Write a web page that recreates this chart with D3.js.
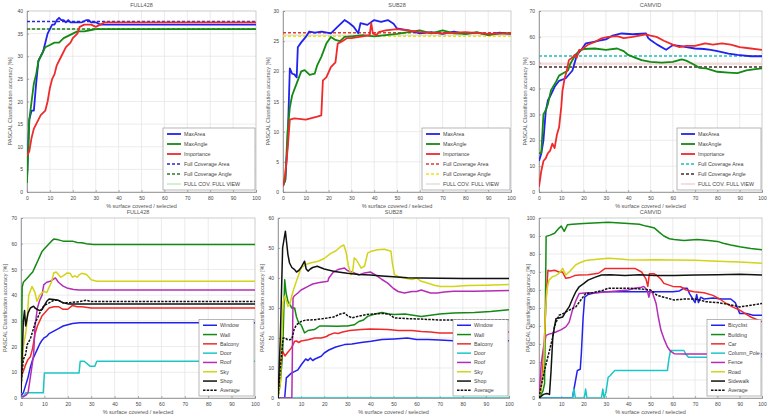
<!DOCTYPE html>
<html>
<head>
<meta charset="utf-8">
<script src="https://cdn.jsdelivr.net/npm/d3@7"></script>
<style>
  body { margin: 0; background: #fff; }
  svg { font-family: "Liberation Sans", Arial, sans-serif; }
  .tick text { fill: #444; }
</style>
</head>
<body>
<svg id="chart" width="768" height="419"></svg>
<script>
// ---- data: [% surface, accuracy] ----
const xTicks = [0, 10, 20, 30, 40, 50, 60, 70, 80, 90, 100];

// top row: strategies
const fullMaxArea = [[0,3],[1,16],[2,18],[3,18],[4,24],[5,29],[6,30],[7,31],[8,33],[9,35],[10,36],[11,37],[12,37],[13,38],[14,38.5],[15,38],[16,38],[17,37.5],[18,38],[19,37.5],[20,37.5],[22,37.5],[24,37.5],[26,38],[27,38],[28,37.5],[30,37.5],[32,37],[100,37]];
const fullMaxAngle = [[0,2],[1,16],[2,20],[3,24],[4,26],[5,29],[6,30],[7,31],[8,32],[10,32.5],[12,33],[14,33],[16,34],[18,34.5],[20,35],[22,35.5],[25,35.5],[28,35.8],[30,36],[100,36]];
const fullImportance = [[0,8],[1,9],[2,12],[3,14],[4,15],[5,16],[6,17],[8,18],[9,20],[10,23],[11,25],[12,26],[13,28],[14,29],[15,30],[17,32],[19,33],[20,34],[22,35],[23,36.5],[25,37],[27,37],[28,37],[30,36.5],[32,37],[34,37.5],[100,37.5]];
const fullRefs = [37.7, 36, 36];

const subMaxArea = [[0,1],[1,2],[2,8],[3,20.5],[4,19.6],[5,19.5],[6,19],[6.5,24],[8,24.8],[10,25.7],[11.5,26.6],[14,26.4],[17,26.6],[21,26.3],[24,27.4],[27,28.5],[29,28],[31,27.4],[33,26.3],[34,28],[37,27.7],[40,28.5],[43,28.2],[46,28.5],[48.5,27.9],[50,27.1],[55,26.8],[60,26.3],[65,26.5],[70,26.2],[75,26.6],[80,26.2],[85,26.4],[90,26.1],[95,26.4],[100,26.2]];
const subMaxAngle = [[0,1],[1,2],[2,10],[3,14],[4,16],[5,17],[6,18],[7,19],[8,20],[9.5,20.2],[11.7,19.4],[13.9,19.6],[15,21],[16.8,22.4],[19,24.6],[21,25.7],[23,25.2],[25,25],[27,25.7],[30,25.8],[35,26],[40,25.8],[45,26],[50,26.2],[55,26.5],[60,26.8],[65,26.3],[70,26.8],[75,26.3],[80,26.2],[85,26.5],[90,26],[95,26.3],[100,26.3]];
const subImportance = [[0,1],[1,3],[2,7],[3,12],[5,12.2],[10,12],[15,12.5],[16.8,12.7],[17.5,18.5],[19,19],[21,20.7],[23,21.5],[24,24.6],[26,25],[28,25.5],[30,25.5],[35,25.8],[38,26],[38.7,28],[39.4,26.3],[41,26],[42,26.5],[45,26.8],[50,27],[55,26.8],[60,26.5],[70,26.3],[80,26.5],[90,26.2],[100,26.3]];
const subRefs = [26.4, 25.8, 26];

const camMaxArea = [[0,12],[1,14.8],[2,20],[3,31],[4,35.5],[5,37],[7,40.7],[9,43],[12,44],[15,47],[17,53],[19,55],[21,57.5],[24,58],[27,58.5],[30,59],[33,60.5],[37,61.3],[42,61],[48,61.3],[49,59.5],[50,58.8],[53,57],[57,55],[60,56.8],[63,56.5],[66,56],[70,55.5],[74,55.3],[77,55],[80,54.5],[85,53.5],[89,53],[95,52.5],[100,52.5]];
const camMaxAngle = [[0,15],[1,15],[2,30],[3,31.6],[4,34],[5.4,39.4],[7.6,42.6],[9,45],[11,46],[13,47],[14,49.5],[16.3,53],[18,54.5],[20,55.3],[25,55.5],[30,55],[35,55.5],[38,54.5],[40,53],[43,52],[46,51],[50,50.3],[55,50],[60,50.3],[64,51.3],[66,50.8],[69,49.5],[72,48],[75,47.8],[80,46.5],[85,46.2],[89,46],[93,47],[97,47.5],[100,47.8]];
const camImportance = [[0,2],[1,8],[2,12],[3,13],[4,15],[5,16],[6,18.7],[7,17],[8,22],[9,25],[10,33],[10.5,39],[11.5,44],[12.5,47],[13.4,51],[15,52],[16,53],[17,52],[18,55],[19,55],[22,57],[25,58],[28,59.4],[31,60],[35,60.3],[38,59.5],[42,60],[48,61],[50,60.5],[52.7,60],[56,58.5],[60,57],[63,56],[66,56.5],[70,56.5],[74.5,57.5],[78,57],[82,57.5],[86,57],[90,56],[95,55.5],[100,55]];
const camRefs = [52.6, 48.3, 49.5];

// bottom row: classes
const fullWindow = [[0,1],[1,2],[2,5],[3,8],[4,12],[5,15],[6,17],[7,19],[8,21],[9,22.5],[10,23.5],[11,24],[12,25],[14,26],[16,27],[18,28],[20,28.5],[22,29],[25,29.3],[30,29.3],[100,29.3]];
const fullWall = [[0,2],[0.5,43],[1,45],[2,46],[3,47],[4,48],[5,49],[6,51],[7,53],[8,55],[9,57],[10,58],[11,59],[12,60],[13,61],[14,61.8],[16,61.5],[18,61],[20,61],[22,61],[24,60.5],[26,60.4],[28,60],[31,59.7],[35,59.7],[100,59.7]];
const fullBalcony = [[0,8],[1,10.4],[2,13],[3,15],[4,16],[5,19.5],[6,25],[7,28],[8,30],[9,32],[10,33],[11,34],[12,35],[14,35.5],[16,35.5],[18,34.5],[20,34.5],[22,36],[24,35.5],[26,35.5],[30,35],[100,35]];
const fullDoor = [[0,0],[1,0.5],[2,2],[5,2],[9.5,2],[10,9.7],[12,9.7],[18,9.7],[24.8,9.7],[25.3,14.3],[27,14.3],[29.6,12.3],[31.5,12.3],[32.4,14.3],[35,14.3],[100,14.3]];
const fullRoof = [[0,1],[1,0.5],[2,1],[3,2],[4,8],[5.4,17],[6,28],[7,35],[8,38],[9,40],[9.7,44],[11,45],[12.5,45.4],[14.7,46.7],[16,45],[18,43.5],[19.6,42.8],[22.5,42.2],[25,42],[100,42]];
const fullSky = [[0,3],[1,20],[2,25],[2.6,30],[3.3,40],[4.7,43.4],[6,41],[6.8,37.6],[8,40],[9.7,41.5],[11,41],[12,43],[13,45],[14,48.6],[15,49],[16,48],[17,47],[18,47.5],[19.6,48.6],[21,48.5],[22,47],[23,47.5],[24,47],[25,48],[26,48.5],[28,48],[30,46],[32.4,45.4],[100,45.4]];
const fullShop = [[0,2],[1,30],[1.5,34],[2,28],[3,33],[4,35],[5.4,35.7],[6,35],[7,34.4],[8,34],[9,34.4],[10,36],[11,37.6],[12,38.5],[14,38.3],[16,38],[18,37],[20,36.6],[25,36.6],[30,36.6],[100,36.6]];
const fullAverage = [[0,5],[1,15],[2,17],[2.6,20.7],[4,23],[5,26],[6,29],[7,31],[8,33],[9,35],[10,36],[12,37],[14,38],[16,38],[18,37],[20,37],[25,37.5],[28,38],[30,37.5],[100,37.5]];

const subWindow = [[0,0],[2.9,0],[3.6,6.7],[5.8,8.3],[8.6,9.4],[10,11],[11,12],[12,13],[13,12.5],[14,13.3],[15,12.5],[16,13],[18.7,13.9],[20,15],[22,16],[25,17],[28.8,17.8],[32,18],[36,18.5],[40.3,18.9],[45,19.5],[50.4,19.7],[56,20],[60,19.5],[65,19.5],[70,19.3],[76,19.1],[85,19.1],[100,19.1]];
const subWall = [[0,0],[1,5],[2,15],[2.9,39.4],[3.5,35],[4.3,32.2],[6,30],[7.2,30],[8,27],[9,25],[10,24.4],[11.5,21.7],[13,22.5],[15.8,22.8],[18,24],[20,24],[26,23.9],[28,24],[30,24],[33,24.4],[35,25.5],[37,26],[38.8,27.2],[42,28],[45,28.5],[48,28],[50.4,27.8],[55,28],[62,27.2],[70,28],[76,28.3],[85,28.5],[92,28.8],[100,29.4]];
const subBalcony = [[0,0],[1,10],[2,15.6],[3,14],[4,15],[5.8,16.7],[7.2,18.9],[8,19],[9,18.5],[10,19],[13,19.4],[16,20],[18.7,20],[21,20.5],[22,21],[24.5,21.7],[26,21.5],[28,22],[31,22.5],[36,22.8],[40,23],[47.5,22.8],[52,22.5],[58,22.5],[62,22.2],[66,22],[70,21.7],[76,21.7],[80,22],[90,22],[100,22]];
const subDoor = [[0,0],[100,0]];
const subRoof = [[0,0],[6,0],[6.5,33.3],[7,34],[8.6,35],[10,36],[13,37.2],[15,38],[18,38.5],[21.6,38.9],[22,40],[24,42],[26,42.8],[28.8,43.3],[30,42.5],[33,41.7],[35,41],[37.4,41.7],[40,42],[43,40.6],[45,39.5],[47.5,38.3],[50,36.5],[52,35.5],[54.7,35],[58,35.5],[60,35.5],[62,36],[64,35.5],[66,35],[69,35],[72,35.3],[76,35.6],[85,35.6],[100,35.8]];
const subSky = [[0,0],[1,5],[2.2,32],[3,34],[4.3,30.6],[5,31],[6.5,35.6],[8,39],[10,43.3],[12,44.5],[14,45],[17.3,45.6],[20,46.5],[23,48.3],[25,49],[27.3,50.6],[28.5,51],[29.5,48.5],[30.5,44],[31.6,41.1],[32.3,42],[33,46.7],[34,46],[36,43.3],[37.5,44],[38.8,48.3],[40,48.8],[43,49.4],[46,49.6],[48.9,48.9],[49.5,45],[50.4,41.1],[52,40.5],[54.7,40],[58,39.5],[60,40],[62,38.9],[64,38.5],[66,38],[68,37.5],[70.5,37.2],[76,37.2],[82,37.5],[90,37.6],[100,37.8]];
const subShop = [[0,0],[1,20],[2,50],[3.2,55.6],[3.7,52],[4.3,47.8],[5,45],[6,43.5],[7.2,42.8],[8,42],[9,42.5],[10,43.5],[11.5,45.6],[12.2,43],[13,42.3],[14,43],[15,43.5],[17,43.9],[20,43],[24.5,42.2],[30,41.6],[35,41.2],[40,41],[45,40.7],[50,40.4],[56,40.1],[62,40],[70,39.9],[80,39.8],[100,39.8]];
const subAverage = [[0,0],[1,10],[2.2,20],[3,20],[4,19.5],[5,19.4],[6,19.6],[7,23],[8,24.4],[10,25.5],[12,26],[14,26],[16,26.1],[20,26.5],[24,27],[27,28],[28.8,28.3],[30,27.5],[32,26.7],[35,27.3],[38,27.8],[41,28],[45,28.2],[48,28],[50.4,26.7],[55,26.5],[62,26.3],[70,26],[80,26],[90,26],[100,26.1]];

const camBicyclist = [[0,0],[15,0],[15.7,5],[17.2,15.3],[18.5,16],[19,25],[19.8,45],[20.5,56],[22,57.5],[25,58.5],[30,59],[35,59],[40,59],[45,59],[50,59],[55,59],[60,59],[63,59.5],[65,61],[66.5,61],[67.5,58],[69,55],[70,53],[70.7,57.5],[71.5,53],[72.5,56],[74,55],[78,55.5],[82,55],[86,55],[88,53],[90,47],[93,47],[96,46],[100,46]];
const camBuilding = [[0,0],[1.8,4],[2.5,8],[3.2,89.8],[5,90.5],[7,91.5],[9,94.4],[10,95.5],[11.3,92.6],[12.8,96.3],[15,96.5],[20,97],[31,97.6],[40,97],[45,96.5],[48,95.5],[50,95],[51.8,94.4],[54,92],[56,90],[58.5,88.5],[60.6,88],[65,87.5],[71,88],[76,87.5],[80,87],[82.6,86],[86,85],[90,84],[95,83],[100,82.3]];
const camCar = [[0,0],[1,5],[1.8,19],[2.5,35],[3.2,55],[4,71],[5,70.5],[7,71],[9,70],[10.5,70],[12,66.5],[14,67],[16,68],[18,68.3],[22,68.5],[26.7,69.3],[29.7,72],[35,72],[43,72],[46,70],[48,66],[48.8,62],[49.5,69],[51.7,69],[53,68],[54.7,66],[56,63.7],[60,62],[63.5,61.8],[66,60],[69.4,59],[74,58.5],[78,57],[81,55],[84,52.5],[87,50.5],[90,48.8],[95,45],[100,42.3]];
const camColumnPole = [[0,0],[15,0],[15.7,5],[16.3,0],[20.3,0],[20.9,5],[21.5,0],[28,0],[28.6,5],[29.2,0],[30,3],[31,11.5],[32,12.5],[33,14],[34,15.3],[40,15.3],[50,15.3],[57.6,15.3],[58.3,22],[59,26.4],[62,26.4],[65,26.4],[66,24],[67,22.7],[75,22.7],[85,23],[100,23]];
const camFence = [[0,0],[1,19],[2,28],[3.2,34.8],[4.5,35.5],[6,36],[7.6,36.7],[10,38],[12,39.5],[13.5,42],[15,48.8],[16.5,54],[18,58],[22,58.5],[26,58.5],[31,59],[35,59.5],[40,60],[43,61],[45.9,61.5],[47,62],[48.5,60],[49.3,56],[50,60],[51,58],[52.5,52.5],[53.5,45],[54.7,37.6],[56,33],[57.6,28.3],[59,26],[60.6,24.6],[65,24.5],[75,24.5],[85,24.5],[100,24.5]];
const camRoad = [[0,0],[1,5],[2,15],[2.8,45],[3.5,60],[4.5,65.5],[6,67.4],[7.5,68],[9,69.3],[10.6,72],[12,68.3],[13.5,70],[15,72],[16.5,74],[18,75],[20.9,76.4],[25,77],[31,77.7],[35,77.3],[40,76.8],[46,76.7],[52,76.8],[60.6,76.7],[70,76.5],[80,76],[90,75.5],[100,74.9]];
const camSidewalk = [[0,0],[2,2],[3.5,2.5],[4.7,2],[5.4,15],[6.2,34],[7,40],[7.6,44],[9,44.5],[10.6,45],[12,48],[13.5,50.6],[15,55],[16.5,59],[18,61.8],[20,63.5],[22,65.5],[25,67],[28,68.3],[32,68.5],[38.5,68],[45,68.5],[52,68],[60.6,68],[70,68.3],[80,68.5],[90,68.8],[100,68.3]];
const camAverage = [[0,0],[1,7],[1.8,11.5],[3,18],[4.7,26.4],[6,33],[7,40],[9,46],[11,47],[13,48.5],[16.5,50.6],[18.5,54],[20.9,58],[24,58.5],[28,59.5],[31,61],[35,61],[40,61],[46,60.5],[50,60],[53,57],[56,56],[60.6,54.4],[65,55],[70,55],[75,53.5],[80,53],[85,52],[90,50.6],[95,51.5],[100,52.5]];

// ---- styling ----
const C = { blue: "#2222ee", green: "#138a13", red: "#f02a2a", cyan: "#1cc6c6", magenta: "#b52db5", yellow: "#d3d318", black: "#111" };
const xLabel = "% surface covered / selected";
const yLabel = "PASCAL Classification accuracy [%]";

const panels = [
  { title: "FULL428", box: { l: 27, r: 256, t: 11, b: 192 }, yMax: 40, yStep: 5, legendW: 92, yLabX: 12,
    series: [
      { name: "MaxArea", data: fullMaxArea, color: C.blue, w: 1.8 },
      { name: "MaxAngle", data: fullMaxAngle, color: C.green, w: 1.8 },
      { name: "Importance", data: fullImportance, color: C.red, w: 1.8 },
      { name: "Full Coverage Area", ref: fullRefs[0], color: "#2a2ad0", w: 1.5, dash: "3,2" },
      { name: "Full Coverage Angle", ref: fullRefs[1], color: "#2e7a2e", w: 1.5, dash: "3,2" },
      { name: "FULL COV. FULL VIEW", ref: fullRefs[2], color: "#8ed88e", w: 0.8 } ] },
  { title: "SUB28", box: { l: 283, r: 511, t: 11, b: 192 }, yMax: 30, yStep: 5, legendW: 88, yLabX: 270,
    series: [
      { name: "MaxArea", data: subMaxArea, color: C.blue, w: 1.8 },
      { name: "MaxAngle", data: subMaxAngle, color: C.green, w: 1.8 },
      { name: "Importance", data: subImportance, color: C.red, w: 1.8 },
      { name: "Full Coverage Area", ref: subRefs[0], color: "#e03a3a", w: 1.5, dash: "3,2" },
      { name: "Full Coverage Angle", ref: subRefs[1], color: "#e6e61a", w: 1.5, dash: "3,2" },
      { name: "FULL COV. FULL VIEW", ref: subRefs[2], color: "#c8c8b0", w: 0.8 } ] },
  { title: "CAMVID", box: { l: 539, r: 762, t: 11, b: 192 }, yMax: 70, yStep: 10, legendW: 84, yLabX: 527,
    series: [
      { name: "MaxArea", data: camMaxArea, color: C.blue, w: 1.8 },
      { name: "MaxAngle", data: camMaxAngle, color: C.green, w: 1.8 },
      { name: "Importance", data: camImportance, color: C.red, w: 1.8 },
      { name: "Full Coverage Area", ref: camRefs[0], color: "#22bcbc", w: 1.5, dash: "3,2" },
      { name: "Full Coverage Angle", ref: camRefs[1], color: "#4a2a2a", w: 1.5, dash: "3,2" },
      { name: "FULL COV. FULL VIEW", ref: camRefs[2], color: "#f0a8a8", w: 0.8 } ] },
  { title: "FULL428", box: { l: 21, r: 255, t: 218, b: 398 }, yMax: 70, yStep: 10, legendW: 55, yLabX: 7,
    series: [
      { name: "Window", data: fullWindow, color: C.blue, w: 1.5 },
      { name: "Wall", data: fullWall, color: C.green, w: 1.5 },
      { name: "Balcony", data: fullBalcony, color: C.red, w: 1.5 },
      { name: "Door", data: fullDoor, color: C.cyan, w: 1.5 },
      { name: "Roof", data: fullRoof, color: C.magenta, w: 1.5 },
      { name: "Sky", data: fullSky, color: C.yellow, w: 1.5 },
      { name: "Shop", data: fullShop, color: C.black, w: 1.5 },
      { name: "Average", data: fullAverage, color: C.black, w: 1.5, dash: "2.5,1.2" } ] },
  { title: "SUB28", box: { l: 278, r: 509, t: 218, b: 398 }, yMax: 60, yStep: 10, legendW: 55, yLabX: 264,
    series: [
      { name: "Window", data: subWindow, color: C.blue, w: 1.5 },
      { name: "Wall", data: subWall, color: C.green, w: 1.5 },
      { name: "Balcony", data: subBalcony, color: C.red, w: 1.5 },
      { name: "Door", data: subDoor, color: C.cyan, w: 1.5 },
      { name: "Roof", data: subRoof, color: C.magenta, w: 1.5 },
      { name: "Sky", data: subSky, color: C.yellow, w: 1.5 },
      { name: "Shop", data: subShop, color: C.black, w: 1.5 },
      { name: "Average", data: subAverage, color: C.black, w: 1.5, dash: "2.5,1.2" } ] },
  { title: "CAMVID", box: { l: 539, r: 762, t: 218, b: 398 }, yMax: 100, yStep: 10, legendW: 54, yLabX: 530,
    series: [
      { name: "Bicyclist", data: camBicyclist, color: C.blue, w: 1.5 },
      { name: "Building", data: camBuilding, color: C.green, w: 1.5 },
      { name: "Car", data: camCar, color: C.red, w: 1.5 },
      { name: "Column_Pole", data: camColumnPole, color: C.cyan, w: 1.5 },
      { name: "Fence", data: camFence, color: C.magenta, w: 1.5 },
      { name: "Road", data: camRoad, color: C.yellow, w: 1.5 },
      { name: "Sidewalk", data: camSidewalk, color: C.black, w: 1.5 },
      { name: "Average", data: camAverage, color: C.black, w: 1.5, dash: "2.5,1.2" } ] }
];

const svg = d3.select("#chart");

panels.forEach((p, pi) => {
  const b = p.box;
  const x = d3.scaleLinear().domain([0, 100]).range([b.l, b.r]);
  const y = d3.scaleLinear().domain([0, p.yMax]).range([b.b, b.t]);
  const yTicks = d3.range(0, p.yMax + 0.001, p.yStep);
  const g = svg.append("g");

  g.append("rect").attr("x", b.l).attr("y", b.t).attr("width", b.r - b.l).attr("height", b.b - b.t)
    .attr("fill", "#fff");

  // grid
  g.append("g").selectAll("line").data(xTicks.slice(1, -1)).join("line")
    .attr("x1", d => x(d)).attr("x2", d => x(d)).attr("y1", b.t).attr("y2", b.b)
    .attr("stroke", "#e4e4e4").attr("stroke-width", 0.7);
  g.append("g").selectAll("line").data(yTicks.slice(1, -1)).join("line")
    .attr("x1", b.l).attr("x2", b.r).attr("y1", d => y(d)).attr("y2", d => y(d))
    .attr("stroke", "#e4e4e4").attr("stroke-width", 0.7);

  // axes
  const xAxis = g.append("g").attr("transform", `translate(0,${b.b})`)
    .call(d3.axisBottom(x).tickValues(xTicks).tickSize(-2).tickPadding(4));
  const yAxis = g.append("g").attr("transform", `translate(${b.l},0)`)
    .call(d3.axisLeft(y).tickValues(yTicks).tickSize(-2).tickPadding(4));
  [xAxis, yAxis].forEach(a => {
    a.select(".domain").attr("stroke", "#777").attr("stroke-width", 0.7);
    a.selectAll(".tick line").attr("stroke", "#777").attr("stroke-width", 0.6);
    a.selectAll("text").attr("font-size", 5).attr("fill", "#555");
  });
  g.append("rect").attr("x", b.l).attr("y", b.t).attr("width", b.r - b.l).attr("height", b.b - b.t)
    .attr("fill", "none").attr("stroke", "#aaa").attr("stroke-width", 0.6);

  // lines: reference lines under the curves
  const line = d3.line().x(d => x(d[0])).y(d => y(d[1]));
  const clipId = "clip" + pi;
  g.append("clipPath").attr("id", clipId).append("rect")
    .attr("x", b.l).attr("y", b.t).attr("width", b.r - b.l).attr("height", b.b - b.t);
  const plot = g.append("g").attr("clip-path", `url(#${clipId})`);
  const refs = p.series.filter(s => s.ref !== undefined);
  const curves = p.series.filter(s => s.data);
  plot.selectAll(".ref").data(refs.slice().reverse()).join("path").attr("class", "ref")
    .attr("d", s => line([[0, s.ref], [100, s.ref]]))
    .attr("fill", "none").attr("stroke", s => s.color).attr("stroke-width", s => s.w)
    .attr("stroke-dasharray", s => s.dash || null);
  plot.selectAll(".curve").data(curves).join("path").attr("class", "curve")
    .attr("d", s => line(s.data))
    .attr("fill", "none").attr("stroke", s => s.color).attr("stroke-width", s => s.w)
    .attr("stroke-linejoin", "round")
    .attr("stroke-dasharray", s => s.dash || null);

  // labels
  g.append("text").attr("x", (b.l + b.r) / 2).attr("y", b.t - 4).attr("text-anchor", "middle")
    .attr("font-size", 5.5).attr("fill", "#555").text(p.title);
  g.append("text").attr("x", (b.l + b.r) / 2).attr("y", b.b + 16).attr("text-anchor", "middle")
    .attr("font-size", 5.5).attr("fill", "#555").text(xLabel);
  g.append("text").attr("transform", `translate(${p.yLabX},${(b.t + b.b) / 2}) rotate(-90)`)
    .attr("text-anchor", "middle").attr("font-size", 5.5).attr("fill", "#555").text(yLabel);

  // legend
  const n = p.series.length;
  const lh = n === 6 ? 10 : 9.3;
  const lw = p.legendW, lhTot = n * lh + 2;
  const lx = b.r - lw - 1, ly = b.b - lhTot - 2;
  const lg = g.append("g").attr("transform", `translate(${lx},${ly})`);
  lg.append("rect").attr("width", lw).attr("height", lhTot)
    .attr("fill", "#fff").attr("stroke", "#888").attr("stroke-width", 0.6);
  const rows = lg.selectAll("g").data(p.series).join("g")
    .attr("transform", (s, i) => `translate(0,${1 + lh * (i + 0.5)})`);
  rows.append("line").attr("x1", 4).attr("x2", 18)
    .attr("stroke", s => s.color).attr("stroke-width", s => s.w)
    .attr("stroke-dasharray", s => s.dash || null);
  rows.append("text").attr("x", 21).attr("y", 2).attr("font-size", 5.3).attr("fill", "#444")
    .text(s => s.name);
});
</script>
</body>
</html>
